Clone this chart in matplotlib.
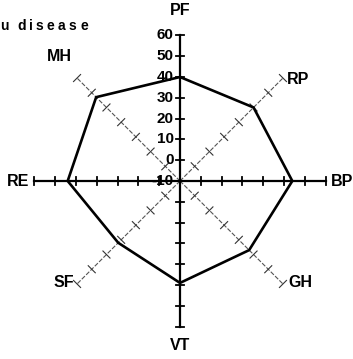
import matplotlib
matplotlib.use("Agg")
import matplotlib.pyplot as plt
import numpy as np

plt.rcParams['font.family'] = ['Liberation Sans', 'DejaVu Sans']

# SF-36 scale scores
scales = ["PF", "RP", "BP", "GH", "VT", "SF", "RE", "MH"]
angles_deg = [90, 45, 0, -45, -90, -135, 180, 135]
scores = [40, 40, 44, 37, 39, 32, 44, 47]
tick_values = [60, 50, 40, 30, 20, 10, 0, -10]
r_min, r_max = -10, 60

fig = plt.figure(figsize=(3.53, 3.59), dpi=100)
ax = fig.add_axes([0, 0, 1, 1])
px = 2.08  # pixels per score unit
ax.set_xlim(-180 / px, 173 / px)
ax.set_ylim(-178 / px, 181 / px)
ax.set_aspect('equal')
ax.axis('off')

def xy(value, ang):
    r = value - r_min
    a = np.deg2rad(ang)
    return r * np.cos(a), r * np.sin(a)

for name, ang in zip(scales, angles_deg):
    main = ang % 90 == 0
    x0, y0 = xy(r_min, ang)
    x1, y1 = xy(r_max, ang)
    if main:
        ax.plot([x0, x1], [y0, y1], color='black', lw=1.6, zorder=2)
        col, lw, half = 'black', 1.3, 2.0
    else:
        ax.plot([x0, x1], [y0, y1], color='#555555', lw=0.8, ls=(0, (4, 1.5)), zorder=1)
        col, lw, half = '#333333', 0.8, 2.4
    a = np.deg2rad(ang)
    nx, ny = -np.sin(a), np.cos(a)
    for v in range(0, r_max + 1, 10):
        tx, ty = xy(v, ang)
        ax.plot([tx - nx * half, tx + nx * half],
                [ty - ny * half, ty + ny * half],
                color=col, lw=lw, zorder=2)

# scale labels
label_pos = {"PF": (0, 82), "RP": (57, 49), "BP": (78, 0), "GH": (58, -49),
             "VT": (0, -79), "SF": (-56, -49), "RE": (-78, 0), "MH": (-58, 60)}
for name in scales:
    lx, ly = label_pos[name]
    ax.text(lx, ly, name, ha='center', va='center', fontsize=11.5,
            fontweight='semibold', zorder=3)

# tick labels on PF axis
for v in tick_values:
    ax.text(-3, v - r_min, str(v), ha='right', va='center',
            fontsize=11, fontweight='bold', zorder=3)

# score polygon
pts = [xy(s, a) for s, a in zip(scores, angles_deg)]
xs = [p[0] for p in pts] + [pts[0][0]]
ys = [p[1] for p in pts] + [pts[0][1]]
ax.plot(xs, ys, color='black', lw=1.9, zorder=4)

# title, letter-spaced (character centres in pixels)
title = "u disease"
centres = [4, 12, 21.5, 30.5, 39, 50, 61, 72, 84]
for ch, cx in zip(title, centres):
    fig.text(cx / 353, 1 - 26 / 359, ch, ha='center', va='center',
             fontsize=10, fontweight='bold')

fig.savefig("out.png", dpi=100)
